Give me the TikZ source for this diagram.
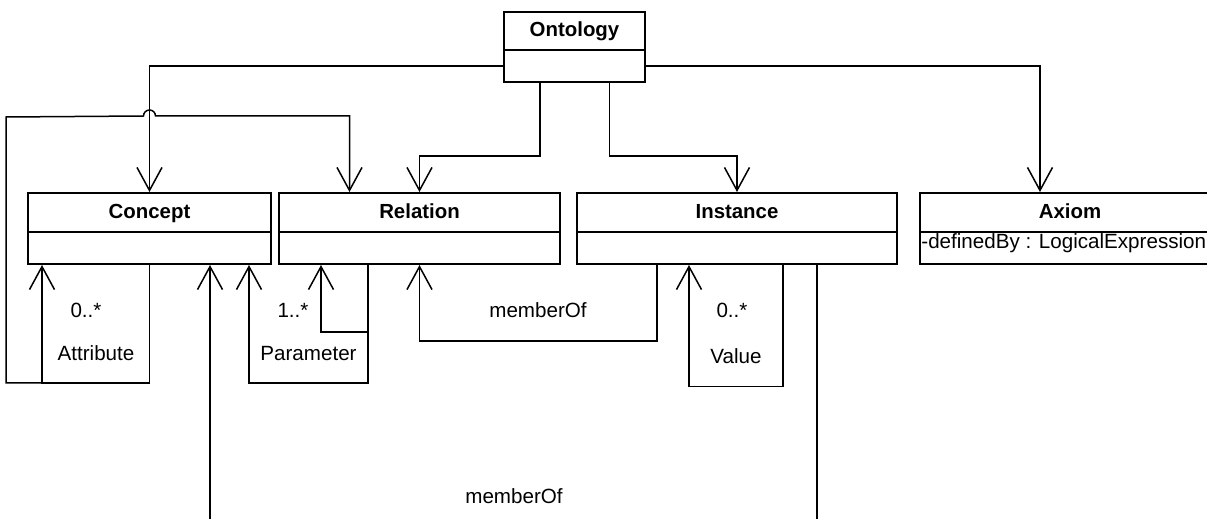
\documentclass[tikz,border=0pt]{standalone}
\usepackage{fontspec}
\setmainfont{Liberation Sans}
\usetikzlibrary{arrows.meta,calc}
\begin{document}
\begin{tikzpicture}[x=0.5pt,y=-0.5pt,
  cls/.style={draw=black, line width=1pt, rectangle, inner sep=0pt, fill=white},
  divider/.style={draw=black, line width=1pt},
  title/.style={font=\bfseries\fontsize{10.2}{12}\selectfont, inner sep=0pt, anchor=base},
  lbl/.style={font=\fontsize{10.3}{12}\selectfont, inner sep=0pt, anchor=base},
  conn/.style={draw=black, line width=0.75pt},
  assoc/.style={conn, -{Straight Barb[length=11.5pt,width=12.5pt,line width=0.75pt]}}]

\useasboundingbox (0,0) rectangle (1207,519);
\clip (0,0) rectangle (1207,519);

% classes
\node[cls, minimum width=70.5pt, minimum height=35pt] (ontology) at (574.5,47) {};
\draw[divider] (504,50) -- (645,50);
\node[title] (ontologyT) at (574.5,36.5) {Ontology};

\node[cls, minimum width=121.5pt, minimum height=35.5pt] (concept) at (149.5,228.5) {};
\draw[divider] (28,232) -- (271,232);
\node[title] (conceptT) at (149.5,219) {Concept};

\node[cls, minimum width=140.5pt, minimum height=35.5pt] (relation) at (419.5,228.5) {};
\draw[divider] (279,232) -- (560,232);
\node[title] (relationT) at (419.5,219) {Relation};

\node[cls, minimum width=160pt, minimum height=35.5pt] (instance) at (737,228.5) {};
\draw[divider] (577,232) -- (897,232);
\node[title] (instanceT) at (737,219) {Instance};

\node[cls, minimum width=150pt, minimum height=35.5pt] (axiom) at (1070,228.5) {};
\draw[divider] (920,232) -- (1220,232);
\node[title] (axiomT) at (1070,219) {Axiom};
\node[lbl, anchor=base west] (axiomAttr) at (921,249) {-definedBy : LogicalExpression};

% Ontology to the classes
\draw[assoc] ([yshift=8.5pt]ontology.south west) -| (concept.north);
\draw[assoc] ([yshift=8.5pt]ontology.south east) -| ([xshift=-15pt]axiom.north);
\draw[assoc] ([xshift=-17.25pt]ontology.south) -- ++(0,73) -| (relation.north);
\draw[assoc] ([xshift=17.5pt]ontology.south) -- ++(0,73) -| (instance.north);

% Attribute loop on Concept
\draw[assoc] (concept.south) -- ++(0,118) -| ([xshift=7.5pt]concept.south west);
\coordinate (attj) at ([xshift=7.5pt,yshift=-59pt]concept.south west);
\draw[assoc] (attj) -- ++(-36,0) -- ++(0,-266) -- (143.5,116)
  arc[start angle=180,end angle=0,radius=3pt] -| ([xshift=-35pt]relation.north);

% Parameter loop Relation -> Concept
\draw[assoc] ([xshift=-25.75pt]relation.south) -- ++(0,118) -| ([xshift=49.75pt]concept.south);
\coordinate (paramj) at ([xshift=-25.75pt,yshift=-33.5pt]relation.south);
\draw[assoc] (paramj) -| ([xshift=-49.25pt]relation.south);

% memberOf Instance -> Relation
\draw[assoc] ([xshift=-40pt]instance.south) -- ++(0,76) -| (relation.south);

% Value loop on Instance
\draw[assoc] ([xshift=23pt]instance.south) -- ++(0,121.5) -| ([xshift=-24pt]instance.south);

% memberOf Instance -> Concept (runs below the visible area)
\draw[assoc] ([xshift=40pt]instance.south) -- ++(0,300) -| ([xshift=30.25pt]concept.south);

% labels
\node[lbl] (attMult) at (86,318) {0..*};
\node[lbl] (attName) at (96,361) {Attribute};
\node[lbl] (parMult) at (293,318) {1..*};
\node[lbl] (parName) at (308.5,360.5) {Parameter};
\node[lbl] (memRel) at (538,318) {memberOf};
\node[lbl] (valMult) at (732,318) {0..*};
\node[lbl] (valName) at (736,364) {Value};
\node[lbl] (memCon) at (514,503) {memberOf};
\end{tikzpicture}
\end{document}
